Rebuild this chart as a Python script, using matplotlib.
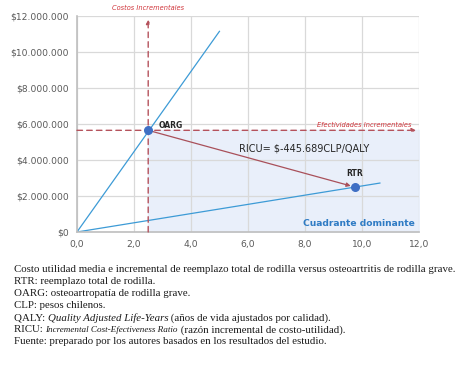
import matplotlib.pyplot as plt
from matplotlib.ticker import FuncFormatter

# Data (effectiveness in QALY, cost in CLP)
labels = ['OARG', 'RTR']
qaly = [2.5, 9.75]
cost = [5650000, 2480000]
ray_x_end = [5.0, 10.63]      # end of the cost/QALY lines from origin
ray_y_end = [11150000, 2720000]
x_ticks = [0, 2, 4, 6, 8, 10, 12]
y_ticks = [0, 2e6, 4e6, 6e6, 8e6, 10e6, 12e6]
ricu_text = 'RICU= $-445.689CLP/QALY'
caption = [
    ('Costo utilidad media e incremental de reemplazo total de rodilla versus osteoartritis de rodilla grave.', None),
    ('RTR: reemplazo total de rodilla.', None),
    ('OARG: osteoartropatía de rodilla grave.', None),
    ('CLP: pesos chilenos.', None),
    ('QALY: ', 'Quality Adjusted Life-Years', ' (años de vida ajustados por calidad).'),
    ('RICU: ', 'Incremental Cost-Efectiveness Ratio', ' (razón incremental de costo-utilidad).'),
    ('Fuente: preparado por los autores basados en los resultados del estudio.', None),
]

fig = plt.figure(figsize=(4.75, 3.73), dpi=100)
ax = fig.add_axes([0.162, 0.378, 0.72, 0.579])

line_c = '#3d9bd6'
grid_c = '#d9d9d9'

# dominant quadrant shading
ax.fill_between([qaly[0], 12], 0, cost[0], color='#e9effa', zorder=0)

# rays from origin
for xe, ye in zip(ray_x_end, ray_y_end):
    ax.plot([0, xe], [0, ye], color=line_c, lw=0.9, zorder=2)

# dashed reference arrows
ax.annotate('', xy=(qaly[0], 11.8e6), xytext=(qaly[0], 0),
            arrowprops=dict(arrowstyle='-|>', color='#b5525c', lw=1.0, ls=(0, (4, 3)),
                            mutation_scale=6, shrinkA=0, shrinkB=0), zorder=3)
ax.annotate('', xy=(11.9, cost[0]), xytext=(0, cost[0]),
            arrowprops=dict(arrowstyle='-|>', color='#b5525c', lw=1.0, ls=(0, (4, 3)),
                            mutation_scale=6, shrinkA=0, shrinkB=0), zorder=3)

# OARG -> RTR arrow
ax.annotate('', xy=(qaly[1] - 0.05, cost[1] + 40000), xytext=(qaly[0], cost[0]),
            arrowprops=dict(arrowstyle='-|>', color='#a9505a', lw=0.9,
                            mutation_scale=6, shrinkA=0, shrinkB=2), zorder=3)

ax.scatter(qaly, cost, s=30, color='#3f6fc4', zorder=5)

ax.text(qaly[0] + 0.35, cost[0] + 250000, labels[0], fontsize=5.5, fontweight='bold',
        color='#262626', ha='left', va='center')
ax.text(qaly[1], cost[1] + 780000, labels[1], fontsize=5.5, fontweight='bold',
        color='#262626', ha='center', va='center')
ax.text(5.7, 4.65e6, ricu_text, fontsize=7, color='#262626', ha='left', va='center')
ax.text(11.85, 0.45e6, 'Cuadrante dominante', fontsize=6.6, fontweight='bold',
        color='#2e7bc4', ha='right', va='center')
ax.text(qaly[0], 12.45e6, 'Costos Incrementales', fontsize=4.8, style='italic',
        color='#d0343a', ha='center', va='center')
ax.text(11.75, 5.95e6, 'Efectividades Incrementales', fontsize=4.8, style='italic',
        color='#d0343a', ha='right', va='center')

ax.set_xlim(0, 12)
ax.set_ylim(0, 12e6)
ax.set_xticks(x_ticks)
ax.set_yticks(y_ticks)
ax.xaxis.set_major_formatter(FuncFormatter(lambda v, p: f'{v:.1f}'.replace('.', ',')))
ax.yaxis.set_major_formatter(FuncFormatter(lambda v, p: '$' + f'{int(v):,}'.replace(',', '.')))
ax.tick_params(length=0, labelsize=6.6, colors='#595959', pad=6)
ax.grid(color=grid_c, lw=0.9, zorder=1)
ax.set_axisbelow(True)
for s in ['top', 'right']:
    ax.spines[s].set_visible(False)
for s in ['left', 'bottom']:
    ax.spines[s].set_color('#bfbfbf')
    ax.spines[s].set_linewidth(1.2)

# caption
y0 = 1 - 270 / 373
dy = 12 / 373
serif = 'Liberation Serif'
fs = 7.8
x_left = 14 / 475
for i, item in enumerate(caption):
    y = y0 - i * dy
    t = fig.text(x_left, y, item[0], fontsize=fs, family=serif, color='#1a1a1a', va='center')
    if item[1] is not None:
        fig.canvas.draw()
        x1 = t.get_window_extent().x1 / fig.bbox.width
        t2 = fig.text(x1, y, item[1], fontsize=fs if i == 4 else 6.6, family=serif,
                      style='italic', color='#1a1a1a', va='center')
        fig.canvas.draw()
        x2 = t2.get_window_extent().x1 / fig.bbox.width
        fig.text(x2, y, item[2], fontsize=fs, family=serif, color='#1a1a1a', va='center')

fig.savefig('out.png', dpi=100)
